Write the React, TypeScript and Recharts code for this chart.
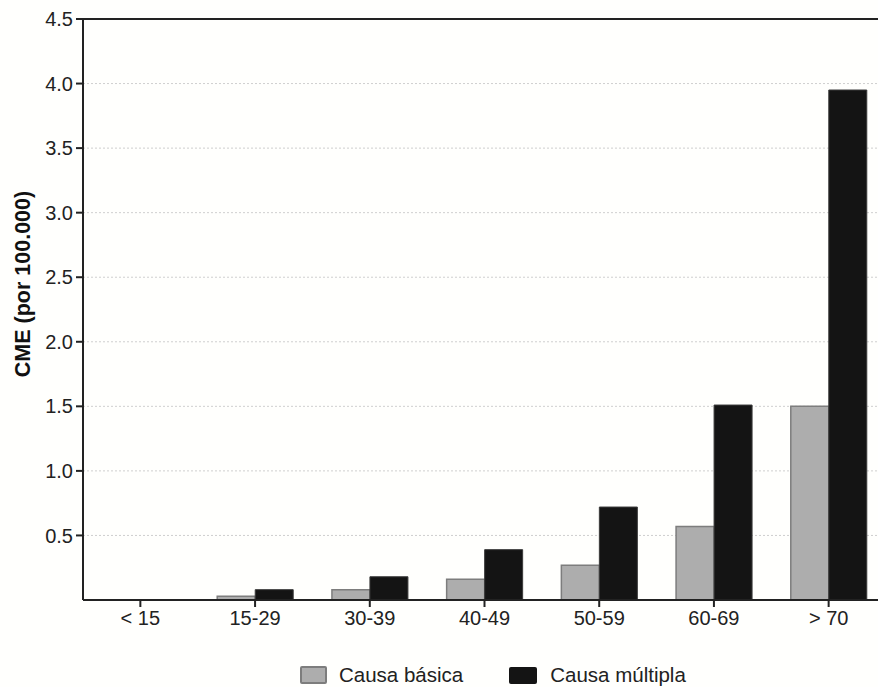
import React from 'react';
import {
  BarChart,
  Bar,
  XAxis,
  YAxis,
  CartesianGrid,
  Legend,
  ReferenceLine,
} from 'recharts';

const ageGroups = ['< 15', '15-29', '30-39', '40-49', '50-59', '60-69', '> 70'];
const causaBasica = [0, 0.03, 0.08, 0.16, 0.27, 0.57, 1.5];
const causaMultipla = [0, 0.08, 0.18, 0.39, 0.72, 1.51, 3.95];
const yTicks = [0.5, 1.0, 1.5, 2.0, 2.5, 3.0, 3.5, 4.0, 4.5];

const data = ageGroups.map((g, i) => ({
  group: g,
  basica: causaBasica[i],
  multipla: causaMultipla[i],
}));

const FONT = 'Arial, "Liberation Sans", Helvetica, sans-serif';
const COLORS = {
  basica: '#adadad',
  basicaEdge: '#7d7d7d',
  multipla: '#141414',
  multiplaEdge: '#3a3a3a',
  axis: '#222',
  grid: '#cfcfcf',
  text: '#222',
};

const renderLegend = () => (
  <div
    style={{
      height: 47,
      display: 'flex',
      alignItems: 'flex-end',
      paddingLeft: 300,
      fontFamily: FONT,
      fontSize: 20.5,
      color: COLORS.text,
    }}
  >
    <div style={{ display: 'flex', alignItems: 'center', marginBottom: 0 }}>
      <span
        style={{
          width: 23,
          height: 14,
          background: COLORS.basica,
          border: `2px solid ${COLORS.basicaEdge}`,
          marginRight: 12,
          borderRadius: 2,
        }}
      />
      <span style={{ marginRight: 46 }}>Causa básica</span>
      <span
        style={{
          width: 28,
          height: 17,
          background: COLORS.multipla,
          marginRight: 13,
          borderRadius: 2,
        }}
      />
      <span>Causa múltipla</span>
    </div>
  </div>
);

export default function App() {
  return (
    <div
      style={{
        position: 'absolute',
        left: 0,
        top: 0,
        width: 878,
        height: 687,
        overflow: 'hidden',
        background: '#fffffd',
      }}
    >
      <BarChart
        width={890}
        height={687}
        data={data}
        margin={{ top: 19, right: 4, bottom: 0, left: 0 }}
        barCategoryGap="17%"
        barGap={0}
      >
        <CartesianGrid
          vertical={false}
          stroke={COLORS.grid}
          strokeDasharray="2 2"
        />
        <XAxis
          dataKey="group"
          height={40}
          tickSize={7}
          tickMargin={4}
          axisLine={{ stroke: COLORS.axis, strokeWidth: 2 }}
          tickLine={{ stroke: COLORS.axis, strokeWidth: 2 }}
          tick={{ fill: COLORS.text, fontSize: 20, fontFamily: FONT }}
          interval={0}
        />
        <YAxis
          width={83}
          domain={[0, 4.5]}
          ticks={yTicks}
          tickFormatter={(v: number) => v.toFixed(1)}
          tickSize={7}
          tickMargin={3}
          axisLine={{ stroke: COLORS.axis, strokeWidth: 2 }}
          tickLine={{ stroke: COLORS.axis, strokeWidth: 2 }}
          tick={{ fill: COLORS.text, fontSize: 20, fontFamily: FONT }}
          label={{
            content: () => (
              <text
                x={30}
                y={284}
                transform="rotate(-90 30 284)"
                textAnchor="middle"
                fontFamily={FONT}
                fontSize={21.5}
                fontWeight="bold"
                fill="#111"
              >
                CME (por 100.000)
              </text>
            ),
          }}
        />
        <ReferenceLine y={4.5} stroke={COLORS.axis} strokeWidth={2} />
        <Legend verticalAlign="bottom" content={renderLegend} />
        <Bar
          dataKey="basica"
          name="Causa básica"
          fill={COLORS.basica}
          stroke={COLORS.basicaEdge}
          strokeWidth={1.5}
          isAnimationActive={false}
        />
        <Bar
          dataKey="multipla"
          name="Causa múltipla"
          fill={COLORS.multipla}
          stroke={COLORS.multiplaEdge}
          strokeWidth={1}
          isAnimationActive={false}
        />
      </BarChart>
    </div>
  );
}
